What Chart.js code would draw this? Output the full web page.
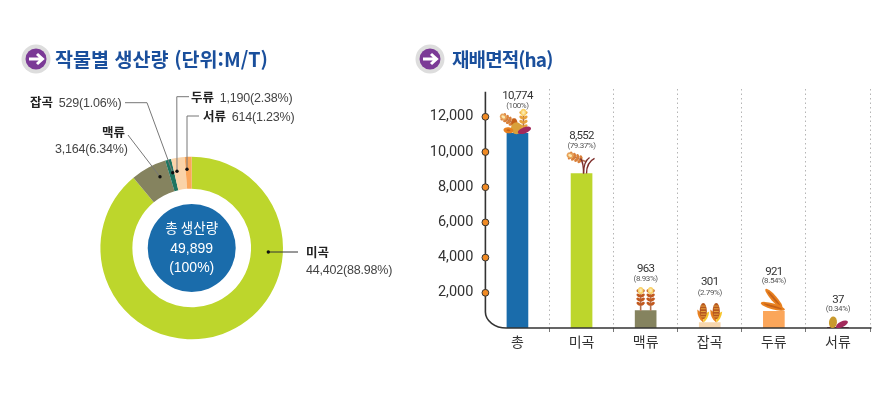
<!DOCTYPE html>
<html lang="ko"><head><meta charset="utf-8">
<script src="https://cdn.jsdelivr.net/npm/chart.js@4"></script>
<style>
html,body{margin:0;padding:0;background:#fff;width:891px;height:400px;overflow:hidden;font-family:"Noto Sans CJK KR",sans-serif}
canvas{position:absolute;top:0}
#c1{left:0}#c2{left:420px}
.t{position:absolute;white-space:nowrap;line-height:1}
.title{font-weight:700;font-size:19.6px;color:#1A4F9C;top:49px}
.lab{font-family:"Liberation Sans",sans-serif;font-size:12.5px;letter-spacing:-.2px;color:#444}
.lab b{font-family:"Noto Sans CJK KR",sans-serif;font-size:12.5px;letter-spacing:0;color:#222;font-weight:700;margin-right:2.5px}
svg{position:absolute}
</style></head><body>
<canvas id="c1" width="420" height="400" style="width:420px;height:400px"></canvas>
<canvas id="c2" width="471" height="400" style="width:471px;height:400px"></canvas>
<svg style="left:21px;top:44px" width="30" height="30" viewBox="0 0 30 30"><circle cx="15" cy="15" r="14.5" fill="#ddd"/><circle cx="15" cy="15" r="10.5" fill="#7B3A96"/><path d="M8 15H21M16 10l5.5 5-5.5 5" fill="none" stroke="#fff" stroke-width="3"/></svg>
<svg style="left:415px;top:44px" width="30" height="30" viewBox="0 0 30 30"><circle cx="15" cy="15" r="14.5" fill="#ddd"/><circle cx="15" cy="15" r="10.5" fill="#7B3A96"/><path d="M8 15H21M16 10l5.5 5-5.5 5" fill="none" stroke="#fff" stroke-width="3"/></svg>
<div class="t title" style="left:55px">작물별 생산량 (단위:M/T)</div>
<div class="t title" style="left:452px;letter-spacing:-.9px;font-size:19px">재배면적(ha)</div>
<div class="t lab" style="left:30px;top:96px"><b>잡곡</b> 529(1.06%)</div>
<div class="t lab" style="left:191px;top:91px"><b>두류</b> 1,190(2.38%)</div>
<div class="t lab" style="left:203px;top:110px"><b>서류</b> 614(1.23%)</div>
<div class="t lab" style="left:102px;top:126px"><b>맥류</b></div>
<div class="t lab" style="left:55px;top:143px">3,164(6.34%)</div>
<div class="t lab" style="left:306px;top:246px"><b>미곡</b></div>
<div class="t lab" style="left:306px;top:264px">44,402(88.98%)</div>
<script>
const cropNames=['미곡','맥류','잡곡','두류','서류'];
const cropOutput=[44402,3164,529,1190,614];
const cropColors=['#BDD62C','#85835F','#1E7560','#FAD3A8','#FBA65A'];
const centerLines=['총 생산량','49,899','(100%)'];
const areaNames=['총','미곡','맥류','잡곡','두류','서류'];
const areaValues=[10774,8552,963,301,921,37];
const areaPercent=['(100%)','(79.37%)','(8.93%)','(2.79%)','(8.54%)','(0.34%)'];
const areaColors=['#1A6CAB','#BDD62C','#85835F','#F7D7AE','#FBA65A','#7D2248'];
const yTicks=[2000,4000,6000,8000,10000,12000];
const labelGap=[[37,27.5],[37,27],[41,32],[40,30],[39.5,30],[27,18]];

const leaders=[
 [[128,135],[160,176.7]],
 [[125,102.7],[147,102.7],[172.7,172.7]],
 [[189,96.7],[176.8,96.7],[177,171.3]],
 [[199,116],[187,116],[187,169.3]],
 [[298,252],[268.3,252]]
];
const donutDecor={id:'donutDecor',afterDatasetsDraw(ch){
 const c=ch.ctx,a=ch.getDatasetMeta(0).data[0];
 c.save();
 c.fillStyle='#1A6CAB';c.beginPath();c.arc(a.x,a.y,44,0,7);c.fill();
 c.fillStyle='#fff';c.textAlign='center';c.textBaseline='middle';
 c.font='400 13.5px "Noto Sans CJK KR"';c.fillText(centerLines[0],a.x,a.y-20);
 c.font='400 14px "Liberation Sans"';c.fillText(centerLines[1],a.x,a.y+1);c.fillText(centerLines[2],a.x,a.y+20);
 leaders.forEach((p,i)=>{
  c.strokeStyle=i==4?'#333':'#777';c.lineWidth=1;c.beginPath();
  p.forEach((q,j)=>j?c.lineTo(q[0],q[1]):c.moveTo(q[0],q[1]));c.stroke();
  const e=p[p.length-1];c.fillStyle='#111';c.beginPath();c.arc(e[0],e[1],1.7,0,7);c.fill();
 });
 c.restore();
}};
new Chart(document.getElementById('c1'),{type:'doughnut',plugins:[donutDecor],
 data:{labels:cropNames,datasets:[{data:cropOutput,backgroundColor:cropColors,borderWidth:0}]},
 options:{responsive:false,animation:false,cutout:'65%',
  layout:{padding:{left:100.4,right:137,top:156.7,bottom:60.7}},
  plugins:{legend:{display:false},tooltip:{enabled:false}}}});

function ell(c,x,y,rx,ry,rot,col){c.fillStyle=col;c.beginPath();c.ellipse(x,y,rx,ry,rot,0,7);c.fill();}
function wheat(c,x,y,h,rot,tip,kern){
 c.save();c.translate(x,y);c.rotate(rot);
 c.strokeStyle='#B5714F';c.lineWidth=1.6;c.beginPath();c.moveTo(0,0);c.lineTo(0,-h*.75);c.stroke();
 const n=4,top=h*.28;
 for(let i=0;i<n;i++){const yy=-h*.3-i*top/1.55;
  ell(c,-2,yy,2.4,1.5,.6,kern);ell(c,2,yy,2.4,1.5,-.6,kern);}
 ell(c,0,-h*.87,2.9,3.6,0,tip);ell(c,0,-h*.87,1.3,2,0,'#FBE9B0');
 c.restore();
}
function corn(c,x,y){
 c.fillStyle='#E8801F';c.beginPath();c.moveTo(x-6,y-13);c.quadraticCurveTo(x-6,y-4,x,y);c.lineTo(x,y-8);c.fill();
 c.fillStyle='#F7C62F';c.beginPath();c.moveTo(x+6,y-11);c.quadraticCurveTo(x+5,y-3,x,y);c.lineTo(x,y-8);c.fill();
 ell(c,x,y-11.5,3.6,8,0,'#B5561F');
 c.fillStyle='#E9A23B';for(let i=0;i<5;i++){c.fillRect(x-2.5,y-17+i*2.7,5,1);}
}
function pod(c,x,y,len,rot){
 ell(c,x,y,len/2,3,rot,'#E8801F');
 ell(c,x,y,len/2-3,1,rot,'#C5611A');
}
function riceStem(c,x0,y0,x1,y1){c.strokeStyle='#7D2D2A';c.lineWidth=1.4;c.beginPath();c.moveTo(x0,y0);c.quadraticCurveTo(x0,y1+4,x1,y1);c.stroke();}
const icons=[
 (c,x,y)=>{
  wheat(c,x-1,y-8,18,-1.0,'#E8A25A','#D9803A');
  wheat(c,x+6,y,24,0,'#F9D26B','#E8A23B');
  ell(c,x-3,y-10,3,5,0,'#C5611A');
  ell(c,x-1,y-5,5.5,6,0,'#D9A03A');
  pod(c,x-9,y-3,10,.15);
  ell(c,x+7,y-3,7,3,-.35,'#A32A5C');
 },
 (c,x,y)=>{
  wheat(c,x+4,y-12,19,-1.2,'#E8A25A','#D9803A');
  riceStem(c,x+2,y,x-1,y-15);riceStem(c,x+2,y,x+8,y-16);riceStem(c,x+5,y,x+13,y-15);
 },
 (c,x,y)=>{wheat(c,x-5,y,23,0,'#F9D26B','#C2591F');wheat(c,x+5,y,23,0,'#F9D26B','#C2591F');},
 (c,x,y)=>{corn(c,x-6.5,y);corn(c,x+6.5,y);},
 (c,x,y)=>{pod(c,x,y-13,25,.85);pod(c,x-1,y-5,25,.28);},
 (c,x,y)=>{ell(c,x-5,y-5,4,5.8,.1,'#C99A2E');ell(c,x+4,y-3,6.5,2.8,-.45,'#A32A5C');}
];
const barDecor={id:'barDecor',
 afterDatasetsDraw(ch){
  const c=ch.ctx,A=ch.chartArea,Y=ch.scales.y,meta=ch.getDatasetMeta(0);
  c.save();
  const bot=A.bottom,rx=21,ry=16;
  c.strokeStyle='#333';c.lineWidth=1.6;c.beginPath();
  c.moveTo(A.left,Y.getPixelForValue(yTicks[yTicks.length-1])-25);
  c.lineTo(A.left,bot-ry);
  c.bezierCurveTo(A.left,bot-ry*.45,A.left+rx*.45,bot,A.left+rx,bot);
  c.lineTo(A.right+1.5,bot);c.stroke();
  yTicks.forEach(v=>{const p=Y.getPixelForValue(v);
   c.fillStyle='#F08A24';c.strokeStyle='#333';c.lineWidth=1;c.beginPath();c.arc(A.left,p,3.4,0,7);c.fill();c.stroke();});
  meta.data.forEach((b,i)=>{
   icons[i](c,b.x,b.y);
   c.letterSpacing='-0.7px';
   c.fillStyle='#333';c.textAlign='center';c.textBaseline='middle';
   c.font='11.5px Roboto';
   c.fillText(areaValues[i].toLocaleString('en-US'),b.x,b.y-labelGap[i][0]);
   c.letterSpacing='-0.4px';
   c.fillStyle='#555';c.font='8px Roboto';
   c.fillText(areaPercent[i],b.x,b.y-labelGap[i][1]);
   c.letterSpacing='0px';
  });
  c.restore();
 }};
new Chart(document.getElementById('c2'),{type:'bar',plugins:[barDecor],
 data:{labels:areaNames,datasets:[{data:areaValues,backgroundColor:areaColors,barThickness:21,yAxisID:'yBars',borderWidth:0}]},
 options:{responsive:false,animation:false,
  layout:{padding:{left:0,right:21,top:89,bottom:0}},
  plugins:{legend:{display:false},tooltip:{enabled:false}},
  scales:{
   x:{offset:true,afterFit(s){s.height=72;},border:{display:false,dash:[1.5,3]},
      grid:{color:ctx=>ctx.index===0?'rgba(0,0,0,0)':'#b5b5b5',lineWidth:1,tickLength:4,
            tickColor:ctx=>ctx.index===0?'rgba(0,0,0,0)':'#777',tickBorderDash:[0,0]},
      ticks:{color:'#333',padding:1,maxRotation:0,font:{family:'"Noto Sans CJK KR"',size:14}}},
   y:{position:'left',min:0,max:13580,afterFit(s){s.width=65.4;},
      afterBuildTicks(s){s.ticks=yTicks.map(v=>({value:v}));},
      border:{display:false},grid:{display:false,drawTicks:false},
      ticks:{color:'#333',padding:12,callback:v=>v.toLocaleString('en-US'),font:{family:'Roboto',size:14.5}}},
   yBars:{display:false,min:0,max:13226}
  }}});
</script></body></html>
